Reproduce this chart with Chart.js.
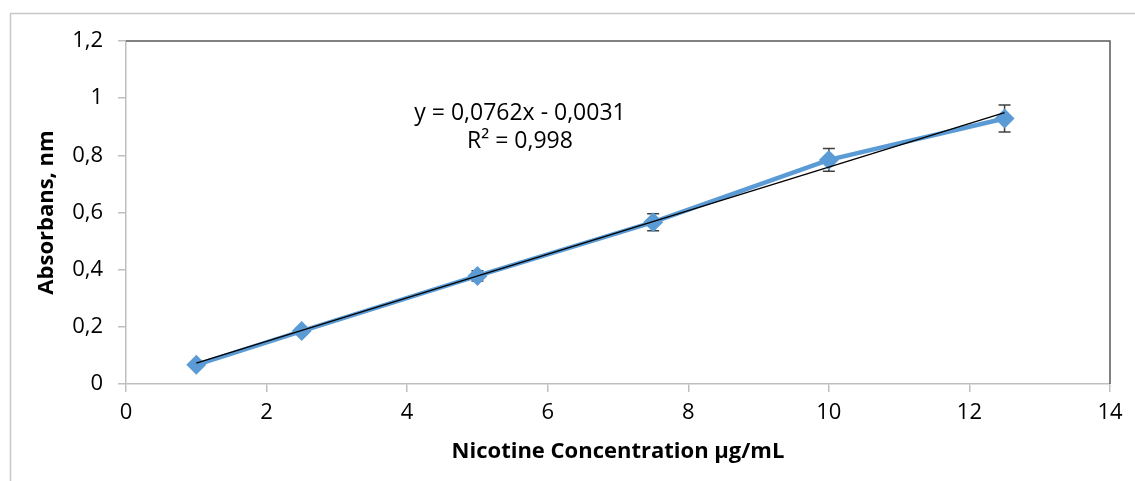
<!DOCTYPE html>
<html>
<head>
<meta charset="utf-8">
<script src="https://cdn.jsdelivr.net/npm/chart.js@4"></script>
<style>
  html, body { margin: 0; padding: 0; background: #fff; }
  #wrap { width: 1135px; height: 481px; }
</style>
</head>
<body>
<div id="wrap"><canvas id="myChart" width="1135" height="481"></canvas></div>
<script>
const concentrations = [1, 2.5, 5, 7.5, 10, 12.5];
const absorbance = [0.067, 0.185, 0.378, 0.566, 0.784, 0.929];
const errors = [0.005, 0.01, 0.018, 0.03, 0.04, 0.047];
const slope = 0.0762;
const intercept = -0.0031;
const trendRange = [1, 12.5];
const equationLines = ['y = 0,0762x - 0,0031', 'R² = 0,998'];

const fmt = v => String(Math.round(v * 10) / 10).replace('.', ',');
const FONT = "'Open Sans', 'Liberation Sans', sans-serif";

// outer frame, error bars (under the markers), plot border, equation label
const extras = {
  id: 'extras',
  beforeDraw(chart) {
    const c = chart.ctx;
    c.save();
    c.strokeStyle = '#c8c8c8';
    c.lineWidth = 1.5;
    c.beginPath();
    c.moveTo(10.5, 481);
    c.lineTo(10.5, 13.5);
    c.lineTo(1135, 13.5);
    c.stroke();
    c.restore();
  },
  beforeDatasetsDraw(chart) {
    const c = chart.ctx;
    const x = chart.scales.x, y = chart.scales.y;
    c.save();
    c.strokeStyle = '#404040';
    c.lineWidth = 1.5;
    concentrations.forEach((cx, i) => {
      const px = x.getPixelForValue(cx);
      const top = y.getPixelForValue(absorbance[i] + errors[i]);
      const bot = y.getPixelForValue(absorbance[i] - errors[i]);
      c.beginPath();
      c.moveTo(px, top); c.lineTo(px, bot);
      c.moveTo(px - 6, top); c.lineTo(px + 6, top);
      c.moveTo(px - 6, bot); c.lineTo(px + 6, bot);
      c.stroke();
    });
    c.restore();
  },
  afterDatasetsDraw(chart) {
    const c = chart.ctx;
    const a = chart.chartArea;
    c.save();
    c.strokeStyle = '#5a5a5a';
    c.lineWidth = 1.5;
    c.beginPath();
    c.moveTo(a.left, a.top);
    c.lineTo(a.right, a.top);
    c.lineTo(a.right, a.bottom);
    c.stroke();

    c.fillStyle = '#000';
    c.font = '23px ' + FONT;
    c.textAlign = 'center';
    c.textBaseline = 'middle';
    c.fillText(equationLines[0], 520, 113);
    c.fillText(equationLines[1], 520, 141);
    c.restore();
  }
};

new Chart(document.getElementById('myChart'), {
  type: 'scatter',
  data: {
    datasets: [
      {
        label: 'Trend',
        data: trendRange.map(v => ({x: v, y: slope * v + intercept})),
        showLine: true,
        borderColor: '#000',
        borderWidth: 1.5,
        pointRadius: 0,
        order: 1
      },
      {
        label: 'Absorbans',
        data: concentrations.map((v, i) => ({x: v, y: absorbance[i]})),
        showLine: true,
        borderColor: '#5b9bd5',
        backgroundColor: '#5b9bd5',
        borderWidth: 4.5,
        pointStyle: 'rectRot',
        pointRadius: 10,
        pointBorderWidth: 0,
        order: 2
      }
    ]
  },
  options: {
    responsive: false,
    animation: false,
    layout: { padding: { top: 41, right: 25, left: 0, bottom: 0 } },
    plugins: {
      legend: { display: false },
      tooltip: { enabled: false }
    },
    scales: {
      x: {
        type: 'linear',
        min: 0, max: 14,
        ticks: { stepSize: 2, color: '#000', font: { family: FONT, size: 22 }, padding: 8, maxRotation: 0 },
        grid: { drawOnChartArea: false, color: '#bfbfbf', tickLength: 8, lineWidth: 1.5 },
        border: { color: '#bfbfbf', width: 1.5 },
        title: { display: true, text: 'Nicotine Concentration µg/mL', color: '#000', font: { family: FONT, size: 22, weight: 'bold' }, padding: { top: 4, bottom: 16 } },
        afterFit(s) { s.height = 97; }
      },
      y: {
        min: 0, max: 1.2,
        ticks: { stepSize: 0.2, color: '#000', font: { family: FONT, size: 22 }, padding: 15, callback: v => fmt(v) },
        grid: { drawOnChartArea: false, color: '#bfbfbf', tickLength: 8, lineWidth: 1.5 },
        border: { color: '#bfbfbf', width: 1.5 },
        title: { display: true, text: 'Absorbans, nm', color: '#000', font: { family: FONT, size: 22, weight: 'bold' }, padding: { top: 34, bottom: 0 } },
        afterFit(s) { s.width = 126; }
      }
    }
  },
  plugins: [extras]
});
</script>
</body>
</html>
